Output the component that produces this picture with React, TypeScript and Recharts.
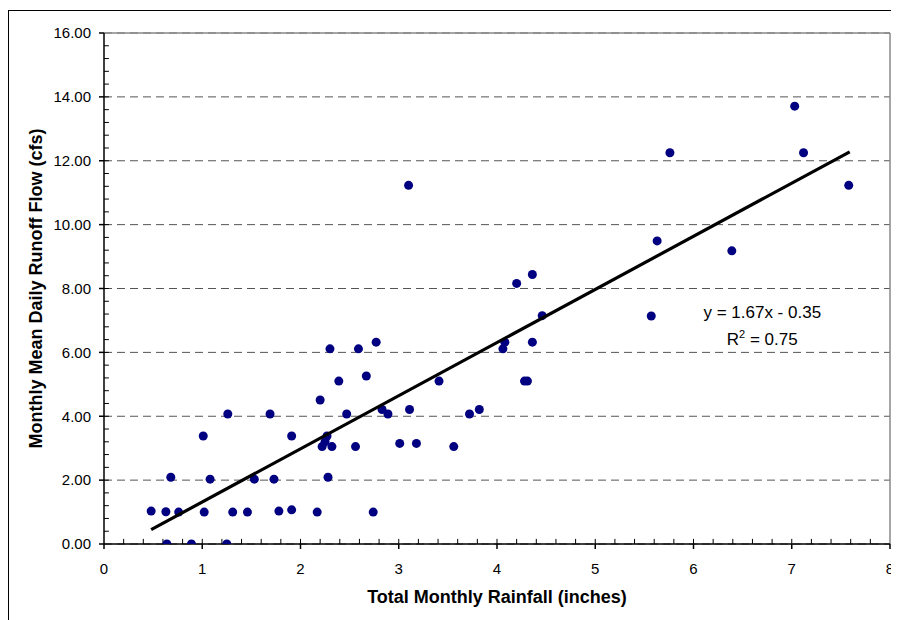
import {
  ScatterChart,
  Scatter,
  XAxis,
  YAxis,
  CartesianGrid,
  ReferenceLine,
  ReferenceDot,
  Label,
} from 'recharts';

// monthly rainfall (inches) vs monthly mean daily runoff (cfs)
const rainfall = [
  0.48, 0.63, 0.64, 0.68, 0.76, 0.89, 1.01, 1.02, 1.08, 1.25,
  1.26, 1.31, 1.46, 1.53, 1.69, 1.73, 1.78, 1.91, 1.91, 2.17,
  2.2, 2.22, 2.25, 2.27, 2.28, 2.3, 2.32, 2.39, 2.47, 2.56,
  2.59, 2.67, 2.74, 2.77, 2.83, 2.89, 3.01, 3.1, 3.11, 3.18,
  3.41, 3.56, 3.72, 3.82, 4.06, 4.08, 4.2, 4.28, 4.31, 4.36,
  4.36, 4.46, 5.57, 5.63, 5.76, 6.39, 7.03, 7.12, 7.58,
];
const runoff = [
  1.03, 1.01, 0, 2.09, 1.0, 0, 3.38, 1.0, 2.03, 0,
  4.07, 1.0, 1.0, 2.03, 4.07, 2.03, 1.03, 1.07, 3.38, 1.0,
  4.51, 3.05, 3.2, 3.38, 2.09, 6.11, 3.05, 5.1, 4.07, 3.05,
  6.11, 5.26, 1.0, 6.32, 4.21, 4.07, 3.15, 11.23, 4.21, 3.15,
  5.1, 3.05, 4.07, 4.21, 6.11, 6.32, 8.16, 5.1, 5.1, 8.44,
  6.32, 7.15, 7.14, 9.49, 12.25, 9.18, 13.71, 12.25, 11.23,
];

// linear trendline end points
const trendX = [0.48, 7.59];
const trendY = [0.45, 12.28];

const xTicks = [0, 1, 2, 3, 4, 5, 6, 7, 8];
const xMinorTicks = [
  0.2, 0.4, 0.6, 0.8, 1, 1.2, 1.4, 1.6, 1.8, 2, 2.2, 2.4, 2.6, 2.8, 3,
  3.2, 3.4, 3.6, 3.8, 4, 4.2, 4.4, 4.6, 4.8, 5, 5.2, 5.4, 5.6, 5.8, 6,
  6.2, 6.4, 6.6, 6.8, 7, 7.2, 7.4, 7.6, 7.8,
];
const yTicks = [0, 2, 4, 6, 8, 10, 12, 14, 16];
const yMinorTicks = [
  0.4, 0.8, 1.2, 1.6, 2, 2.4, 2.8, 3.2, 3.6, 4, 4.4, 4.8, 5.2, 5.6, 6,
  6.4, 6.8, 7.2, 7.6, 8, 8.4, 8.8, 9.2, 9.6, 10, 10.4, 10.8, 11.2, 11.6, 12,
  12.4, 12.8, 13.2, 13.6, 14, 14.4, 14.8, 15.2, 15.6,
];

const equation = 'y = 1.67x - 0.35';
const rSquared = '0.75';

const FONT = '"Liberation Sans", Arial, Helvetica, sans-serif';

const points = rainfall.map((x, i) => ({ x, y: runoff[i] }));
const trend = trendX.map((x, i) => ({ x, y: trendY[i] }));

// inner tick length in data units (about 5px on each axis)
const X_TICK_LEN = 0.05;
const Y_TICK_LEN = 0.16;

const Dot = (p: any) => <circle cx={p.cx} cy={p.cy} r={4.5} fill="#000080" />;

const YTitle = ({ viewBox }: any) => {
  const cx = viewBox.x + 27;
  const cy = viewBox.y + viewBox.height / 2;
  return (
    <text
      x={cx}
      y={cy}
      transform={`rotate(-90 ${cx} ${cy})`}
      textAnchor="middle"
      dominantBaseline="central"
      fontFamily={FONT}
      fontSize={18}
      fontWeight="bold"
      fill="#000"
    >
      Monthly Mean Daily Runoff Flow (cfs)
    </text>
  );
};

const XTitle = ({ viewBox }: any) => (
  <text
    x={viewBox.x + viewBox.width / 2}
    y={viewBox.y + 59}
    textAnchor="middle"
    fontFamily={FONT}
    fontSize={18}
    fontWeight="bold"
    fill="#000"
  >
    Total Monthly Rainfall (inches)
  </text>
);

const EquationText = (p: any) => (
  <g fontFamily={FONT} fontSize={17} fill="#000">
    <text x={p.cx} y={p.cy} textAnchor="middle">
      {equation}
    </text>
    <text x={p.cx} y={p.cy + 27} textAnchor="middle">
      <tspan>R</tspan>
      <tspan dy={-7} fontSize={11}>2</tspan>
      <tspan dy={7}>{` = ${rSquared}`}</tspan>
    </text>
  </g>
);

export default function App() {
  return (
    <div style={{ paddingTop: 2, height: 610, overflow: 'hidden', width: 891 }}>
      <div
        style={{
          width: 889,
          height: 640,
          borderLeft: '1.5px solid #000',
          borderTop: '1px solid #000',
          fontFamily: FONT,
        }}
      >
        <ScatterChart width={889} height={609} margin={{ top: 22, right: 8, bottom: 0, left: 0 }}>
          <CartesianGrid vertical={false} strokeDasharray="8 5" stroke="#555" />
          <XAxis
            type="number"
            dataKey="x"
            domain={[0, 8]}
            ticks={xTicks}
            interval={0}
            allowDataOverflow
            height={76}
            tickSize={5}
            tickMargin={14}
            stroke="#000"
            strokeWidth={1.5}
            tick={{ fill: '#000', fontSize: 15, fontFamily: FONT }}
          >
            <Label content={XTitle} />
          </XAxis>
          <YAxis
            type="number"
            dataKey="y"
            domain={[0, 16]}
            ticks={yTicks}
            interval={0}
            allowDataOverflow
            width={95}
            tickSize={5}
            tickMargin={8}
            stroke="#000"
            strokeWidth={1.5}
            tickFormatter={(v: number) => v.toFixed(2)}
            tick={{ fill: '#000', fontSize: 15, fontFamily: FONT }}
          >
            <Label content={YTitle} />
          </YAxis>
          <ReferenceLine y={16} stroke="#888" strokeWidth={1.5} />
          <ReferenceLine x={8} stroke="#888" strokeWidth={1.5} />
          {xMinorTicks.map((t) => (
            <ReferenceLine
              key={`xm${t}`}
              segment={[{ x: t, y: 0 }, { x: t, y: Y_TICK_LEN }]}
              stroke="#000"
              strokeWidth={1}
            />
          ))}
          {yMinorTicks.map((t) => (
            <ReferenceLine
              key={`ym${t}`}
              segment={[{ x: 0, y: t }, { x: X_TICK_LEN, y: t }]}
              stroke="#000"
              strokeWidth={1}
            />
          ))}
          <Scatter data={points} shape={Dot} isAnimationActive={false} />
          <Scatter
            data={trend}
            line={{ stroke: '#000', strokeWidth: 3.2 }}
            shape={() => <g />}
            isAnimationActive={false}
          />
          <ReferenceDot x={6.7} y={7.08} r={0} shape={EquationText} />
        </ScatterChart>
      </div>
    </div>
  );
}
